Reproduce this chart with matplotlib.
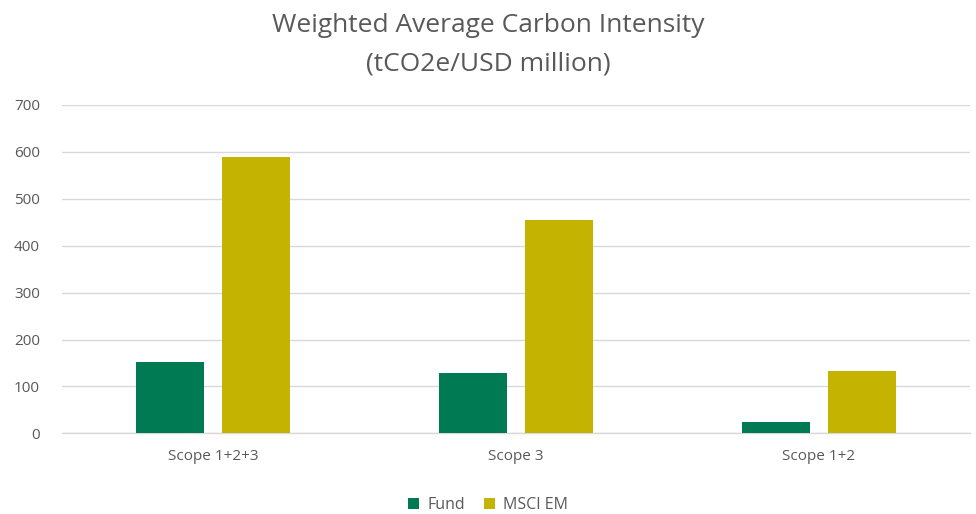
import matplotlib
matplotlib.use("Agg")
import matplotlib.pyplot as plt
import numpy as np

categories = ["Scope 1+2+3", "Scope 3", "Scope 1+2"]
fund = [152, 128, 24]
msci_em = [589, 455, 132]
series_names = ["Fund", "MSCI EM"]
yticks = [0, 100, 200, 300, 400, 500, 600, 700]

plt.rcParams['font.family'] = ['Open Sans', 'DejaVu Sans']
grey = '#595959'
c_fund = '#007A53'
c_msci = '#C4B300'

fig = plt.figure(figsize=(9.76, 5.14), dpi=100)
ax = fig.add_axes([62/976, 1-433.3/514, (970-62)/976, (433.3-105)/514])

x = np.arange(len(categories))
w = 0.225
off = 0.142
ax.bar(x - off, fund, width=w, color=c_fund, label=series_names[0], zorder=3)
ax.bar(x + off, msci_em, width=w, color=c_msci, label=series_names[1], zorder=3)

ax.set_xlim(-0.5, 2.5)
ax.set_ylim(0, 700)
ax.set_yticks(yticks)
ax.set_yticklabels([str(v) for v in yticks], color=grey, fontsize=11)
ax.set_xticks(x)
ax.set_xticklabels(categories, color=grey, fontsize=11)
ax.tick_params(axis='y', length=0, pad=16)
ax.tick_params(axis='x', length=0, pad=11)
ax.grid(axis='y', color='#D9D9D9', linewidth=1, zorder=0)
for s in ['top', 'right', 'left']:
    ax.spines[s].set_visible(False)
ax.spines['bottom'].set_color('#D9D9D9')
ax.spines['bottom'].set_linewidth(1)

fig.text(0.5, 1-25/514, "Weighted Average Carbon Intensity", ha='center', va='center',
         fontsize=19, color=grey)
fig.text(0.5, 1-64/514, "(tCO2e/USD million)", ha='center', va='center',
         fontsize=19, color=grey)

leg = fig.legend(loc='center', bbox_to_anchor=(0.5, 1-505/514), ncol=2, frameon=False,
                 fontsize=11.5, handlelength=0.7, handleheight=0.7, columnspacing=1.2,
                 handletextpad=0.5)
for t in leg.get_texts():
    t.set_color(grey)

fig.savefig("out.png", dpi=100)
